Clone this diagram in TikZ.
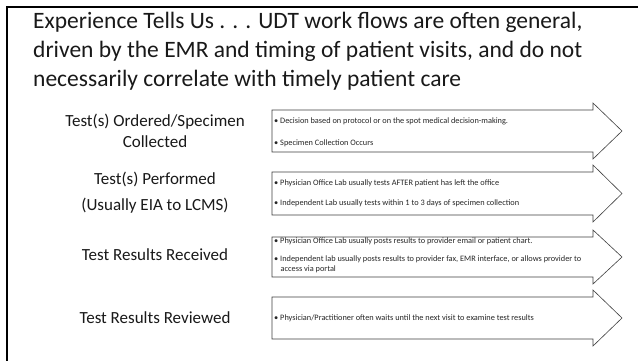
\documentclass[tikz,border=0pt]{standalone}
\usepackage{fontspec}
\setmainfont{Carlito}
\begin{document}
\begin{tikzpicture}[x=1pt,y=-1pt,
  frame/.style={draw=black,line width=2.4pt},
  flow/.style={draw=black!75,line width=0.6pt,fill=white},
  stage/.style={font=\fontsize{17}{22}\selectfont,anchor=base,text=black!90},
  detail/.style={font=\fontsize{8.3}{9.5}\selectfont,anchor=west,align=left,inner sep=0pt,text=black!85},
  title/.style={font=\fontsize{23.5}{29}\selectfont,anchor=base west,inner sep=0pt,text=black!90}]
\useasboundingbox (0,0) rectangle (638,360);
\clip (0,0) rectangle (638,360);
\fill[white] (0,0) rectangle (638,360);
\draw[frame] (7,7) rectangle (700,420);

\node[title] (ttl1) at (33,28) {Experience Tells Us . . . UDT work flows are often general,};
\node[title] (ttl2) at (33,57) {driven by the EMR and timing of patient visits, and do not};
\node[title] (ttl3) at (33,86) {necessarily correlate with timely patient care};

% arrows: top, bottom
\foreach \t/\b/\n in {110/152/a1,172/215/a2,237/277/a3,297/339/a4}{
  \draw[flow] (272,\t) -- (593,\t) -- (593,\t-7) -- (622,{(\t+\b)/2}) -- (593,\b+7) -- (593,\b) -- (272,\b) -- cycle;
}

\node[stage] (s1) at (155,126) {Test(s) Ordered/Specimen};
\node[stage] (s1b) at (155,147) {Collected};
\node[stage] (s2) at (155,184) {Test(s) Performed};
\node[stage] (s2b) at (155,210) {(Usually EIA to LCMS)};
\node[stage] (s3) at (155,260) {Test Results Received};
\node[stage] (s4) at (155,323) {Test Results Reviewed};

\node[detail] (d1a) at (274,121) {• Decision based on protocol or on the spot medical decision-making.};
\node[detail] (d1b) at (274,143) {• Specimen Collection Occurs};
\node[detail] (d2a) at (274,183) {• Physician Office Lab usually tests AFTER patient has left the office};
\node[detail] (d2b) at (274,203) {• Independent Lab usually tests within 1 to 3 days of specimen collection};
\node[detail] (d3a) at (274,241) {• Physician Office Lab usually posts results to provider email or patient chart.};
\node[detail,anchor=north west] (d3b) at (274,256) {• Independent lab usually posts results to provider fax, EMR interface, or allows provider to\\\hspace*{6.5pt}access via portal};
\node[detail] (d4) at (274,318) {• Physician/Practitioner often waits until the next visit to examine test results};
\end{tikzpicture}
\end{document}
